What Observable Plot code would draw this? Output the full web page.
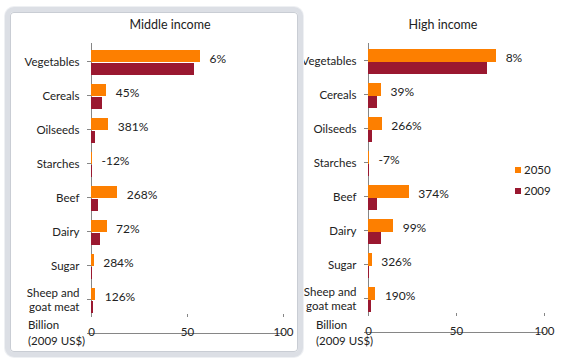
<!DOCTYPE html>
<html>
<head>
<meta charset="utf-8">
<script src="https://cdn.jsdelivr.net/npm/d3@7"></script>
<script src="https://cdn.jsdelivr.net/npm/@observablehq/plot@0.6"></script>
<style>
  html, body { margin: 0; padding: 0; background: #fff; }
  #wrap { position: relative; width: 567px; height: 361px; overflow: hidden; font-family: Lato, "Open Sans", sans-serif; color: #222; }
  #wrap > * { position: absolute; }
  #wrap > svg { left: 0; top: 0; }
  #wrap > .frame { left: 5px; top: 7px; width: 288px; height: 340px; border: 5px solid #dcdfe5; border-radius: 9px; background: #fff; box-shadow: inset 0 0 0 1px #c9cdd4, 0 0 0 1px #eef0f3; }
  .title { font-size: 12.5px; text-align: center; width: 160px; }
  .unit { font-size: 11.5px; line-height: 16px; }
  .leg { font-size: 11.5px; display: flex; align-items: center; }
  .sw { width: 6px; height: 6px; margin-right: 3px; display: inline-block; }
</style>
</head>
<body>
<div id="wrap"></div>
<script>
const categories = ["Vegetables", "Cereals", "Oilseeds", "Starches", "Beef", "Dairy", "Sugar", "Sheep and\ngoat meat"];
const middle2050 = [56.8, 8.0, 9.0, 0.5, 13.7, 8.1, 1.4, 2.2];
const middle2009 = [53.5, 5.5, 1.9, 0.55, 3.7, 4.7, 0.36, 0.97];
const middleGrowth = ["6%", "45%", "381%", "-12%", "268%", "72%", "284%", "126%"];
const high2050 = [72.8, 7.4, 7.8, 0.56, 23.2, 14.3, 2.1, 4.2];
const high2009 = [67.5, 5.3, 2.1, 0.6, 4.9, 7.2, 0.5, 1.45];
const highGrowth = ["8%", "39%", "266%", "-7%", "374%", "99%", "326%", "190%"];
const xTicks = [0, 50, 100];
const seriesNames = ["2050", "2009"];
const colors = ["#fd7f00", "#9a1830"];

function panel(v2050, v2009, growth, m) {
  const rows = categories.map((c, i) => ({c, a: v2050[i], b: v2009[i], g: growth[i]}));
  const band = (361 - m.top - m.bottom) / categories.length;
  const last = categories[categories.length - 1];
  const ax = {stroke: "#868686", strokeWidth: 1, shapeRendering: "crispEdges"};
  return Plot.plot({
    width: 567, height: 361,
    marginLeft: m.left, marginRight: m.right, marginTop: m.top, marginBottom: m.bottom,
    style: {background: "transparent", fontFamily: "Lato, 'Open Sans', sans-serif", fontSize: "11.5px", color: "#222"},
    x: {domain: [0, 100], axis: null},
    y: {domain: categories, padding: 0, axis: null},
    marks: [
      Plot.ruleX([0], {x: d => d, ...ax}),
      Plot.ruleY(categories, {y: d => d, x1: -4 / m.scale, x2: 0, ...ax}),
      Plot.ruleY([last], {y: d => d, x1: -4 / m.scale, x2: 100, dy: band, ...ax}),
      Plot.tickX(xTicks, {x: d => d, y: () => last, insetTop: band - 2, insetBottom: -1, ...ax}),
      Plot.barX(rows, {y: "c", x: "a", fill: colors[0], insetTop: band * 0.165, insetBottom: band * 0.455, shapeRendering: "crispEdges"}),
      Plot.barX(rows, {y: "c", x: "b", fill: colors[1], insetTop: band * 0.545, insetBottom: band * 0.085, shapeRendering: "crispEdges"}),
      Plot.axisY({label: null, tickSize: 0, tickPadding: 12, fontSize: 11.5, lineHeight: 1.25, fill: "#222"}),
      Plot.axisX({label: null, ticks: xTicks, tickSize: 0, tickPadding: 11, fontSize: 11.5, fill: "#222"}),
      Plot.text(rows, {y: "c", x: "a", text: "g", dx: 9, dy: -2, textAnchor: "start", fontSize: 12, fill: "#222"})
    ]
  });
}

const wrap = document.getElementById("wrap");
const right = panel(high2050, high2009, highGrowth, {left: 368, right: 23, top: 43, bottom: 46, scale: 1.754});
wrap.appendChild(right);
const frame = document.createElement("div");
frame.className = "frame";
wrap.appendChild(frame);
const left = panel(middle2050, middle2009, middleGrowth, {left: 91, right: 284, top: 43, bottom: 45, scale: 1.92});
wrap.appendChild(left);

function addDiv(cls, html, x, y) {
  const d = document.createElement("div");
  d.className = cls; d.innerHTML = html;
  d.style.left = x + "px"; d.style.top = y + "px";
  wrap.appendChild(d);
  return d;
}
addDiv("title", "Middle income", 90, 17);
addDiv("title", "High income", 363, 17);
addDiv("unit", "Billion<br>(2009 US$)", 28, 317);
addDiv("unit", "Billion<br>(2009 US$)", 316, 317);
seriesNames.forEach((s, i) => {
  addDiv("leg", `<span class="sw" style="background:${colors[i]}"></span>${s}`, 515, 163 + i * 21);
});
</script>
</body>
</html>
